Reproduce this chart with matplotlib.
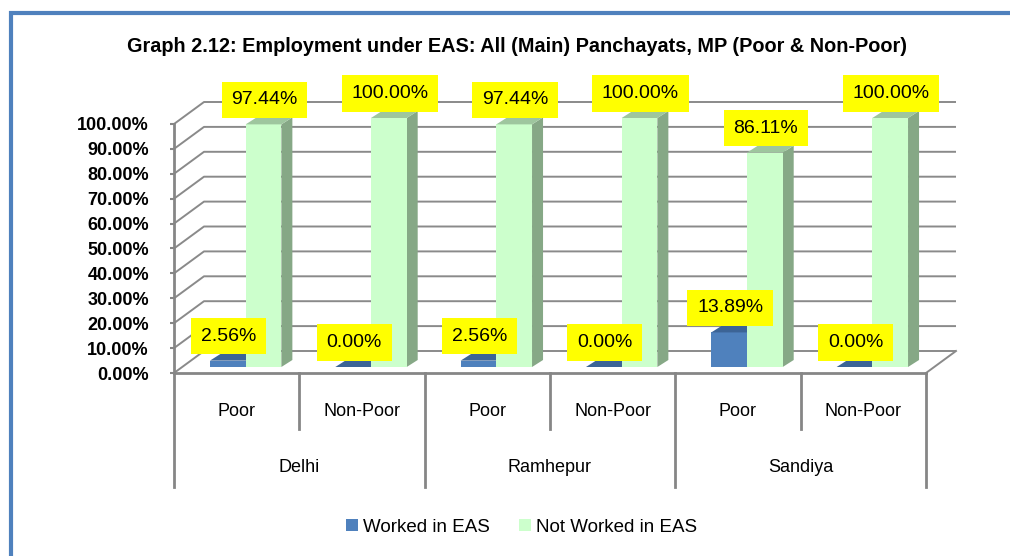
import matplotlib
matplotlib.use("Agg")
import matplotlib.pyplot as plt
from matplotlib.patches import Polygon, Rectangle, Patch

# ---------------- data ----------------
groups = ["Delhi", "Ramhepur", "Sandiya"]
subcats = ["Poor", "Non-Poor", "Poor", "Non-Poor", "Poor", "Non-Poor"]
worked = [2.56, 0.00, 2.56, 0.00, 13.89, 0.00]
not_worked = [97.44, 100.00, 97.44, 100.00, 86.11, 100.00]
series_names = ["Worked in EAS", "Not Worked in EAS"]
yticks = [0, 10, 20, 30, 40, 50, 60, 70, 80, 90, 100]
title = "Graph 2.12: Employment under EAS: All (Main) Panchayats, MP (Poor & Non-Poor)"

# ---------------- layout ----------------
W, H = 1010, 556
FONT = "Liberation Sans"
fig = plt.figure(figsize=(W / 100, H / 100), dpi=100, facecolor="white")

ax_l, ax_r, ax_t, ax_b = 174, 926, 124, 373
ax = fig.add_axes([ax_l / W, (H - ax_b) / H, (ax_r - ax_l) / W, (ax_b - ax_t) / H])
ax.set_facecolor("none")
n = len(subcats)
ax.set_xlim(-0.5, n - 0.5)
ax.set_ylim(0, 100)

pxx = (ax_r - ax_l) / n          # pixels per x unit
pxy = (ax_b - ax_t) / 100.0      # pixels per y unit
def dx(p): return p / pxx
def dy(p): return p / pxy

WX, WY = dx(30), dy(22)      # wall depth
BX, BY = dx(9), dy(6)        # bar front offset into depth
TX, TY = dx(11), dy(7)       # bar depth
BW = dx(35.7)                # bar width

grid_c = "#8a8a8a"
axis_c = "#868686"

# back wall gridlines + side wall diagonals
for v in yticks:
    ax.plot([-0.5, -0.5 + WX, n - 0.5 + WX], [v, v + WY, v + WY],
            color=grid_c, lw=1.4, clip_on=False, zorder=1, solid_capstyle="butt")
# floor right edge
ax.plot([n - 0.5, n - 0.5 + WX], [0, WY], color=grid_c, lw=1.4, clip_on=False, zorder=1)

# spines / ticks
for s in ["top", "right"]:
    ax.spines[s].set_visible(False)
for s in ["left", "bottom"]:
    ax.spines[s].set_color(axis_c)
    ax.spines[s].set_linewidth(2)
    ax.spines[s].set_zorder(2)
ax.set_xticks([])
ax.set_yticks(yticks)
ax.set_yticklabels([f"{v:.2f}%" for v in yticks], fontfamily=FONT,
                   fontweight="bold", fontsize=13)
ax.tick_params(axis="y", length=3, width=1.5, color=axis_c, pad=15, direction="out")

# category axis dividers and labels
xt = ax.get_xaxis_transform()
ah = ax_b - ax_t
for x in [0.5, 2.5, 4.5]:
    ax.plot([x, x], [0, -56 / ah], transform=xt, color=axis_c, lw=2, clip_on=False)
for x in [-0.5, 1.5, 3.5, 5.5]:
    ax.plot([x, x], [0, -114 / ah], transform=xt, color=axis_c, lw=2, clip_on=False)
for i, lab in enumerate(subcats):
    ax.text(i, -38 / ah, lab, transform=xt, ha="center", va="center",
            fontfamily=FONT, fontsize=13)
for g, lab in enumerate(groups):
    ax.text(2 * g + 0.5, -95 / ah, lab, transform=xt, ha="center", va="center",
            fontfamily=FONT, fontsize=13)

# 3D-looking bars
blue = dict(front="#4F81BD", top="#3C6496", side="#3A5F8B")
green = dict(front="#CCFFCC", top="#9EC69E", side="#86A886")

def draw_bars(lefts, vals, col, z):
    ax.bar(lefts, vals, width=BW, bottom=BY, align="edge", color=col["front"],
           edgecolor="none", zorder=z + 0.2, clip_on=False)
    for x0, h in zip(lefts, vals):
        top = h + BY
        side = Polygon([(x0 + BW, BY), (x0 + BW + TX, BY + TY),
                        (x0 + BW + TX, top + TY), (x0 + BW, top)],
                       closed=True, fc=col["side"], ec="none", zorder=z + 0.1,
                       clip_on=False)
        topf = Polygon([(x0, top), (x0 + BW, top), (x0 + BW + TX, top + TY),
                        (x0 + TX, top + TY)],
                       closed=True, fc=col["top"], ec="none", zorder=z + 0.3,
                       clip_on=False)
        ax.add_patch(side)
        ax.add_patch(topf)

blue_left = [i - BW + BX for i in range(n)]
green_left = [i + BX for i in range(n)]
draw_bars(blue_left, worked, blue, 3)
draw_bars(green_left, not_worked, green, 4)

# data labels
def labels(lefts, vals, z):
    for x0, h in zip(lefts, vals):
        ax.annotate(f"{h:.2f}%", xy=(x0 + BW / 2, h + BY), xytext=(1, 24.5),
                    textcoords="offset pixels", ha="center", va="center",
                    fontfamily=FONT, fontsize=14, color="black", zorder=z,
                    annotation_clip=False,
                    bbox=dict(boxstyle="square,pad=0.5", fc="#FFFF00", ec="none"))
labels(blue_left, worked, 10)
labels(green_left, not_worked, 11)

# title
fig.text(517 / W, 1 - 47 / H, title, ha="center", va="center",
         fontfamily=FONT, fontweight="bold", fontsize=14.3)

# legend
handles = [Patch(fc=blue["front"], ec="none", label=series_names[0]),
           Patch(fc=green["front"], ec="none", label=series_names[1])]
fig.legend(handles=handles, loc="center", bbox_to_anchor=(522 / W, 1 - 527 / H),
           ncol=2, frameon=False, handlelength=0.64, handleheight=0.64,
           handletextpad=0.27, columnspacing=1.55,
           prop=dict(family=FONT, size=13.5))

# outer frame (cropped at right and bottom)
fig.add_artist(Rectangle((10.5 / W, -0.1), 1.2, (H - 13) / H + 0.1,
                         transform=fig.transFigure, fill=False,
                         ec="#4F81BD", lw=3, clip_on=False))

fig.savefig("out.png", dpi=100, facecolor="white")
